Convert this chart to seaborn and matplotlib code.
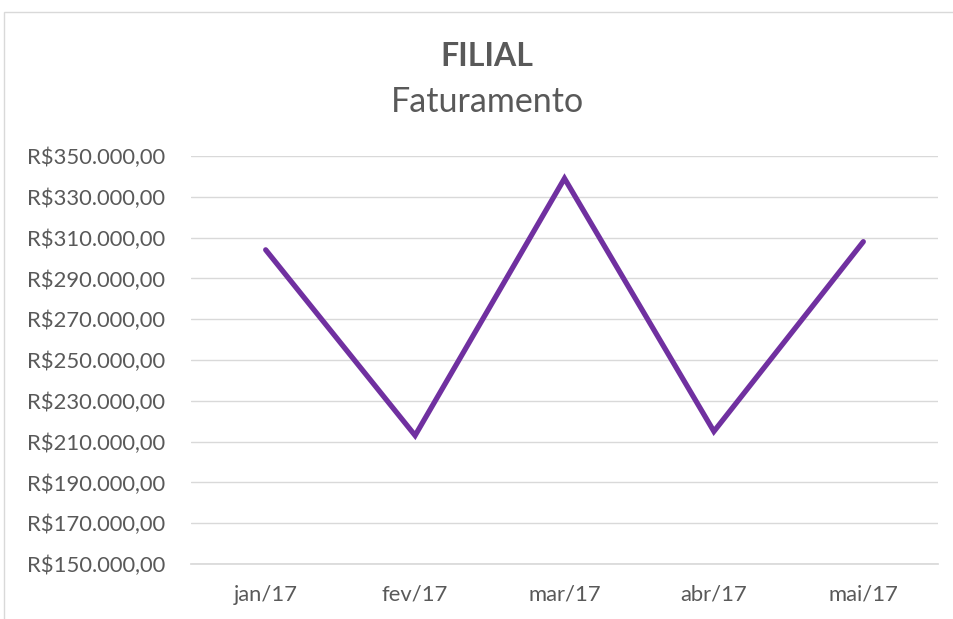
import pandas as pd
import matplotlib.pyplot as plt
import matplotlib.ticker as mticker
import seaborn as sns

meses = ['jan/17', 'fev/17', 'mar/17', 'abr/17', 'mai/17']
faturamento = [304000, 213000, 339000, 215000, 308000]
y_ticks = list(range(150000, 350001, 20000))

sns.set_theme(style='white')
plt.rcParams['font.family'] = ['Lato', 'DejaVu Sans']

df = pd.DataFrame({'mes': meses, 'valor': faturamento})
df['pos'] = range(len(meses))

fig = plt.figure(figsize=(9.54, 6.19), dpi=100)
ax = fig.add_axes([191 / 954, 1 - 564 / 619, (938 - 191) / 954, (564 - 156) / 619])

sns.lineplot(data=df, x='pos', y='valor', ax=ax, color='#7030A0', linewidth=3.8,
             solid_capstyle='round', solid_joinstyle='miter')

def brl(v, pos):
    s = f'{v:,.2f}'.replace(',', 'X').replace('.', ',').replace('X', '.')
    return 'R$' + s

ax.set_ylim(150000, 350000)
ax.set_yticks(y_ticks)
ax.yaxis.set_major_formatter(mticker.FuncFormatter(brl))
ax.set_xlim(-0.5, 4.5)
ax.set_xticks(range(len(meses)))
ax.set_xticklabels(meses)
ax.set_xticks([i - 0.5 for i in range(len(meses) + 1)], minor=True)
ax.grid(axis='y', color='#d9d9d9', linewidth=1)
ax.set_axisbelow(True)
for s in ['top', 'right', 'left']:
    ax.spines[s].set_visible(False)
ax.spines['bottom'].set_color('#d9d9d9')
ax.tick_params(axis='x', which='major', length=0, pad=15, labelsize=15.8, labelcolor='#595959')
ax.tick_params(axis='x', which='minor', length=7, color='#d9d9d9', width=1, direction='out')
ax.tick_params(axis='y', length=0, pad=18.5, labelsize=15.8, labelcolor='#595959')
ax.set_xlabel('')
ax.set_ylabel('')

fig.text(487 / 954, 1 - 57 / 619, 'FILIAL', ha='center', va='center', fontsize=23,
         fontweight='bold', color='#595959')
fig.text(487 / 954, 1 - 102 / 619, 'Faturamento', ha='center', va='center', fontsize=24.5,
         color='#595959')

border = plt.Rectangle((4 / 954, -0.1), 2, 1 - 12 / 619 + 0.1, transform=fig.transFigure,
                       fill=False, edgecolor='#d9d9d9', linewidth=1)
fig.patches.append(border)

fig.savefig('out.png', dpi=100)
